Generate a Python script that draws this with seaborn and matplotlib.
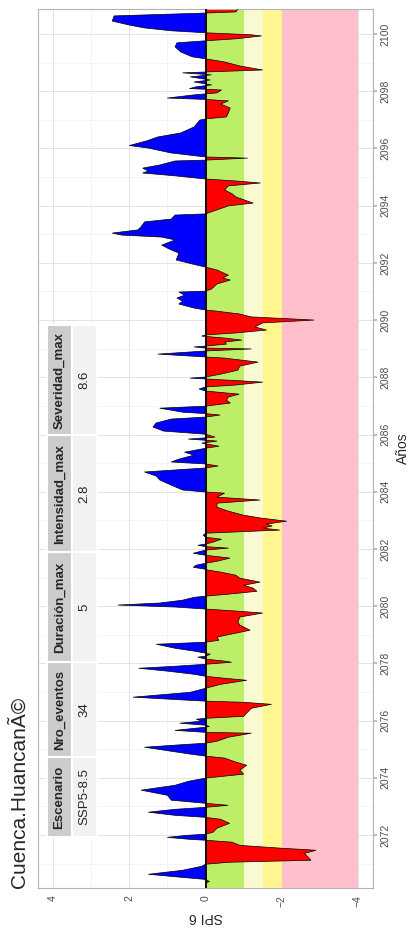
import numpy as np
import pandas as pd
import matplotlib
matplotlib.use("Agg")
import matplotlib.pyplot as plt
import seaborn as sns
from matplotlib.patches import Rectangle

# Serie SPI-6, anios decimales
anios = [
    2070.17, 2070.31, 2070.38, 2070.45, 2070.52, 2070.63, 2070.77, 2070.91, 2070.98,
    2071.05, 2071.12, 2071.22, 2071.36, 2071.47, 2071.54, 2071.64, 2071.75, 2071.82,
    2071.85, 2071.92, 2071.99, 2072.03, 2072.10, 2072.24, 2072.41, 2072.55, 2072.62,
    2072.69, 2072.80, 2072.90, 2072.97, 2073.04, 2073.11, 2073.22, 2073.39, 2073.57,
    2073.74, 2073.88, 2073.99, 2074.13, 2074.27, 2074.44, 2074.55, 2074.69, 2074.76,
    2074.83, 2074.97, 2075.07, 2075.17, 2075.21, 2075.28, 2075.42, 2075.56, 2075.59,
    2075.66, 2075.77, 2075.80, 2075.84, 2075.91, 2075.98, 2076.05, 2076.08, 2076.15,
    2076.29, 2076.43, 2076.57, 2076.64, 2076.68, 2076.82, 2076.99, 2077.13, 2077.27,
    2077.41, 2077.48, 2077.55, 2077.62, 2077.73, 2077.83, 2077.90, 2077.97, 2078.04,
    2078.08, 2078.15, 2078.22, 2078.25, 2078.32, 2078.36, 2078.43, 2078.53, 2078.67,
    2078.74, 2078.81, 2078.92, 2079.06, 2079.16, 2079.34, 2079.44, 2079.62, 2079.76,
    2079.83, 2079.90, 2079.97, 2080.04, 2080.11, 2080.21, 2080.31, 2080.35, 2080.42,
    2080.52, 2080.63, 2080.73, 2080.84, 2080.98, 2081.08, 2081.19, 2081.26, 2081.29,
    2081.36, 2081.43, 2081.50, 2081.57, 2081.68, 2081.78, 2081.85, 2081.96, 2082.03,
    2082.08, 2082.13, 2082.17, 2082.24, 2082.34, 2082.41, 2082.48, 2082.55, 2082.66,
    2082.73, 2082.80, 2082.87, 2082.97, 2083.08, 2083.18, 2083.32, 2083.46, 2083.60,
    2083.71, 2083.81, 2083.95, 2083.99, 2084.06, 2084.23, 2084.41, 2084.55, 2084.69,
    2084.83, 2084.90, 2084.97, 2085.04, 2085.14, 2085.28, 2085.38, 2085.52, 2085.59,
    2085.70, 2085.77, 2085.84, 2085.91, 2086.01, 2086.12, 2086.26, 2086.40, 2086.54,
    2086.61, 2086.68, 2086.73, 2086.78, 2086.92, 2086.99, 2087.10, 2087.20, 2087.31,
    2087.41, 2087.52, 2087.59, 2087.66, 2087.73, 2087.83, 2087.87, 2087.94, 2087.97,
    2088.01, 2088.11, 2088.25, 2088.39, 2088.53, 2088.67, 2088.71, 2088.81, 2088.92,
    2088.99, 2089.02, 2089.06, 2089.09, 2089.16, 2089.23, 2089.30, 2089.37, 2089.44,
    2089.48, 2089.55, 2089.65, 2089.76, 2089.90, 2090.00, 2090.11, 2090.21, 2090.31,
    2090.35, 2090.42, 2090.56, 2090.66, 2090.77, 2090.87, 2090.98, 2091.01, 2091.08,
    2091.26, 2091.40, 2091.47, 2091.57, 2091.75, 2091.85, 2091.96, 2092.10, 2092.34,
    2092.48, 2092.62, 2092.80, 2092.90, 2092.97, 2093.04, 2093.15, 2093.25, 2093.43,
    2093.53, 2093.67, 2093.71, 2093.85, 2093.99, 2094.09, 2094.30, 2094.41, 2094.55,
    2094.69, 2094.79, 2094.86, 2094.93, 2095.04, 2095.14, 2095.21, 2095.31, 2095.42,
    2095.56, 2095.59, 2095.66, 2095.70, 2095.84, 2096.01, 2096.10, 2096.26, 2096.40,
    2096.54, 2096.75, 2096.99, 2097.03, 2097.10, 2097.24, 2097.41, 2097.55, 2097.66,
    2097.71, 2097.76, 2097.87, 2097.94, 2098.04, 2098.09, 2098.15, 2098.22, 2098.32,
    2098.39, 2098.50, 2098.57, 2098.64, 2098.67, 2098.74, 2098.88, 2099.02, 2099.13,
    2099.20, 2099.37, 2099.55, 2099.69, 2099.76, 2099.83, 2099.93, 2099.97, 2100.04,
    2100.11, 2100.21, 2100.31, 2100.45, 2100.63, 2100.73, 2100.77, 2100.87,
]
spi6 = [
    0, 0, -0.1, 0, 0.6, 1.5, 0.6, 0.1, 0,
    -0.6, -2.77, -2.7, -2.6, -2.9, -2.0, -0.9, -0.7, 0,
    0.4, 1.0, 0.5, 0, -0.2, -0.3, -0.63, -0.4, 0,
    0.8, 1.5, 0.8, 0, -0.59, 0, 0.9, 1.0, 1.69,
    0.8, 0.45, 0, -1.0, -0.9, -1.08, -0.8, -0.5, 0,
    0.4, 1.1, 1.6, 0.5, 0, -0.3, -0.6, -1.2, 0,
    0.8, 0, -0.1, 0, 0.67, 0.1, 0.24, 0, -1.0,
    -1.1, -1.2, -1.73, -1.0, 0, 1.9, 0.4, 0, -0.4,
    -1.08, -0.5, 0, 0.3, 1.0, 1.75, 0.8, 0, -0.68,
    -0.5, 0, 0.2, 0, -0.12, 0, 0.3, 0.8, 1.29,
    0, -0.35, -0.3, -0.8, -1.17, -0.9, -0.85, -0.9, -1.5,
    -0.8, 0, 0.8, 2.3, 1.2, 0.6, 0.3, 0, -0.6,
    -1.35, -1.25, -1.0, -1.43, -0.9, -0.8, -0.4, -0.07, 0,
    0.32, 0.25, 0, -0.3, -0.64, 0, 0.32, 0, -0.6,
    0, 0.2, 0, -0.2, -0.42, 0, 0.06, 0, -1.95,
    -1.5, -1.75, -1.6, -2.13, -1.45, -1.0, -0.6, -0.3, -0.3,
    -1.43, -0.3, -0.5, 0, 0.6, 0.9, 1.2, 1.3, 1.6,
    0, -0.33, 0, 0.9, 0.7, 0.3, 0.55, 0, -0.35,
    0.1, -0.3, 0.45, -0.25, 0, 1.1, 1.38, 1.3, 0.9,
    0, -0.38, 0, 0.6, 1.2, 0, -0.65, -0.55, -0.6,
    -0.88, 0, 0.17, 0, -0.8, -1.5, -1.0, 0, 0.4,
    0, -0.4, -0.85, -0.9, -1.38, -0.5, 0, 1.25, 0,
    -1.2, 0, 0.3, 0, -0.55, -0.5, -0.95, -0.5, 0.1,
    0, -0.8, -1.6, -1.3, -1.5, -2.85, -1.2, -0.9, -0.3,
    0, 0.3, 0.7, 0.6, 0.75, 0.55, 0.7, 0, -0.15,
    -0.3, -0.65, -0.45, -0.6, -0.3, 0, 0.35, 0.77, 0.7,
    0.95, 1.15, 0.8, 1.15, 2.2, 2.45, 1.78, 1.7, 1.6,
    0.9, 0.8, 0, -0.3, -0.6, -1.25, -0.8, -0.7, -0.5,
    -0.6, -1.44, -0.8, 0, 0.8, 1.65, 1.5, 1.65, 1.2,
    0.8, 0, -1.1, 0, 0.9, 1.5, 2.0, 1.55, 1.25,
    0.65, 0.3, 0.15, 0, -0.55, -0.6, -0.65, -0.4, -0.6,
    0, 1.0, 0.3, -0.3, -0.42, 0.42, 0.25, -0.16, 0.3,
    -0.12, 0.4, -0.15, 0.6, 0, -1.5, -0.9, -0.5, 0,
    0.35, 0.65, 0.8, 0.75, 0, -0.8, -1.47, -1.2, 0,
    0.9, 1.6, 2.0, 2.45, 2.4, 0, -0.8, -0.85,
]

titulo = "Cuenca.HuancanÃ©"
tabla_cols = ["Escenario", "Nro_eventos", "Duración_max", "Intensidad_max", "Severidad_max"]
tabla_vals = ["SSP5-8.5", "34", "5", "2.8", "8.6"]

# Bandas de severidad (SPI)
bandas_lim = [0, -1, -1.5, -2, -4]
bandas_col = ["#BCEE68", "#FAFAD2", "#FFF68F", "#FFC0CB"]

sns.set_theme(style="white")
plt.rcParams["font.family"] = ["Liberation Sans", "DejaVu Sans"]

df = pd.DataFrame({"anio": anios, "spi": spi6})
y = df["anio"].to_numpy()
x = df["spi"].to_numpy()

fig = plt.figure(figsize=(4.11, 9.32), dpi=100)
ax = fig.add_axes([0.0925, 0.0472, 0.8151, 0.9431])

ax.set_xlim(4.4, -4.4)
ax.set_ylim(2070.15, 2100.87)
ax.set_xticks([4, 2, 0, -2, -4])
ax.set_xticks([3, 1, -1, -3], minor=True)
ax.set_yticks(range(2072, 2101, 2))
ax.set_yticks(range(2071, 2101, 2), minor=True)
ax.grid(which="major", color="#DEDEDE", lw=0.6, zorder=0)
ax.grid(which="minor", color="#EDEDED", lw=0.4, zorder=0)
ax.set_axisbelow(True)

for i, c in enumerate(bandas_col):
    ax.axvspan(bandas_lim[i + 1], bandas_lim[i], color=c, lw=0, zorder=1)

ax.fill_betweenx(y, 0, x, where=x >= 0, interpolate=True, facecolor="blue", edgecolor="none", zorder=2)
ax.fill_betweenx(y, 0, x, where=x <= 0, interpolate=True, facecolor="red", edgecolor="none", zorder=2)
sns.lineplot(data=df, x="spi", y="anio", orient="y", estimator=None, sort=False,
             color="black", lw=0.5, ax=ax, zorder=3)
ax.axvline(0, color="black", lw=1.3, zorder=4)

for s in ax.spines.values():
    s.set_color("#B3B3B3")
    s.set_linewidth(0.8)

ax.yaxis.tick_right()
ax.yaxis.set_label_position("right")
ax.tick_params(axis="both", which="major", length=3, color="#B3B3B3", labelsize=7.5,
               labelcolor="#4D4D4D", pad=2)
ax.tick_params(axis="both", which="minor", length=0)
for lab in ax.get_yticklabels():
    lab.set_rotation(90)
    lab.set_va("center")
for lab in ax.get_xticklabels():
    lab.set_rotation(90)
ax.set_ylabel("Años", rotation=90, fontsize=10, labelpad=4)
ax.set_xlabel("SPI 6", rotation=180, fontsize=10, labelpad=2)

fig.text(0.046, 0.0472, titulo, rotation=90, fontsize=15, ha="center", va="bottom")

# Tabla resumen (rotada)
filas = [0.058, 0.149, 0.257, 0.382, 0.515, 0.6405]
for i, (col, val) in enumerate(zip(tabla_cols, tabla_vals)):
    y0, y1 = filas[i], filas[i + 1]
    ax.add_patch(Rectangle((0.027, y0), 0.0745, y1 - y0, transform=ax.transAxes,
                           fc="#CCCCCC", ec="white", lw=1.5, zorder=5))
    ax.add_patch(Rectangle((0.1015, y0), 0.0745, y1 - y0, transform=ax.transAxes,
                           fc="#F2F2F2", ec="white", lw=1.5, zorder=5))
    ax.text(0.064, (y0 + y1) / 2, col, transform=ax.transAxes, rotation=90, fontsize=9.5,
            fontweight="bold", ha="center", va="center", zorder=6)
    ax.text(0.139, (y0 + y1) / 2, val, transform=ax.transAxes, rotation=90, fontsize=9.5,
            ha="center", va="center", zorder=6)

fig.savefig("out.png", dpi=100)
